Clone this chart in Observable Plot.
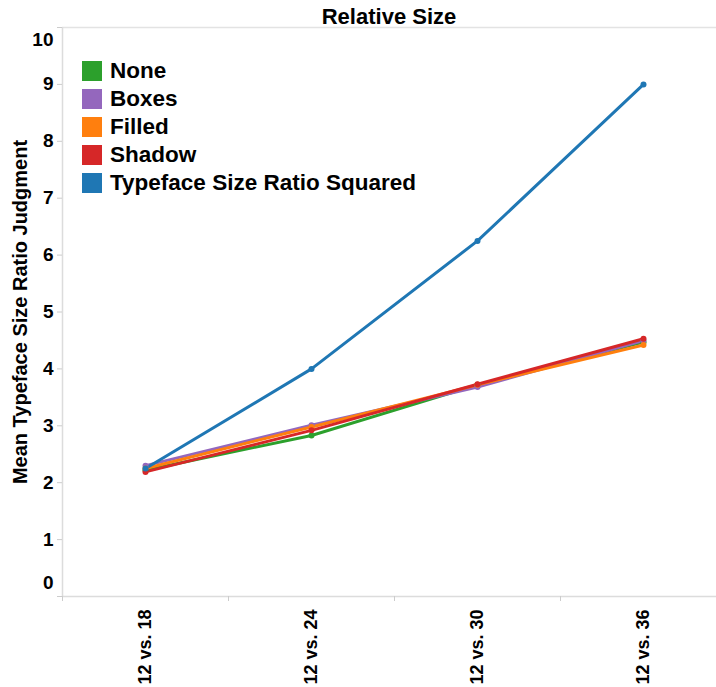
<!DOCTYPE html>
<html><head><meta charset="utf-8">
<script src="https://cdn.jsdelivr.net/npm/d3@7"></script>
<script src="https://cdn.jsdelivr.net/npm/@observablehq/plot@0.6"></script>
<style>
body{margin:0;background:#fff;font-family:"Liberation Sans",Arial,sans-serif;}
#wrap{position:relative;width:716px;height:687px;overflow:hidden;}
#title{position:absolute;left:62px;width:654px;top:4px;text-align:center;font-weight:bold;font-size:22px;line-height:26px;}
#legend{position:absolute;left:82px;top:57px;}
.item{display:flex;align-items:center;height:28px;font-weight:bold;font-size:22.5px;}
.sw{width:20px;height:20px;margin-right:8px;flex:none;}
#chart{position:absolute;top:0;left:0;}
</style></head><body>
<div id="wrap"><div id="chart"></div><div id="title"></div><div id="legend"></div></div>
<script>
const titleText = "Relative Size";
const yTitle = "Mean Typeface Size Ratio Judgment";
const categories = ["12 vs. 18", "12 vs. 24", "12 vs. 30", "12 vs. 36"];
const seriesNames = ["None", "Boxes", "Filled", "Shadow", "Typeface Size Ratio Squared"];
const seriesColors = ["#2ca02c", "#9467bd", "#ff7f0e", "#d62728", "#1f77b4"];
const noneVals = [2.22, 2.83, 3.72, 4.47];
const boxesVals = [2.30, 3.01, 3.68, 4.50];
const filledVals = [2.25, 2.98, 3.72, 4.42];
const shadowVals = [2.19, 2.92, 3.73, 4.53];
const squaredVals = [2.25, 4.00, 6.25, 9.00];
const yTicks = [0, 1, 2, 3, 4, 5, 6, 7, 8, 9, 10];

const allVals = [noneVals, boxesVals, filledVals, shadowVals, squaredVals];
const data = [];
seriesNames.forEach((s, k) => allVals[k].forEach((v, i) => data.push({series: s, i, v})));
const idx = categories.map((_, i) => i);
const bounds = [-0.5, ...idx.map(i => i + 0.5)];
const yMin = yTicks[0], yMax = yTicks[yTicks.length - 1];

document.getElementById("title").textContent = titleText;
const leg = document.getElementById("legend");
seriesNames.forEach((s, k) => {
  const d = document.createElement("div"); d.className = "item";
  d.innerHTML = `<span class="sw" style="background:${seriesColors[k]}"></span><span>${s}</span>`;
  leg.appendChild(d);
});

const chart = Plot.plot({
  width: 716, height: 687,
  marginTop: 27, marginBottom: 91, marginLeft: 62, marginRight: 0,
  style: {fontFamily: "'Liberation Sans', Arial, sans-serif", fontSize: "19px", fontWeight: "bold", color: "#000", background: "#fff"},
  x: {type: "linear", domain: [bounds[0], bounds[bounds.length - 1]], range: [62, 62 + 166 * categories.length]},
  y: {domain: [yMin, yMax]},
  color: {domain: seriesNames, range: seriesColors},
  marks: [
    Plot.ruleY([yMax], {stroke: "#e3e3e3", strokeWidth: 1.5}),
    Plot.ruleY([yMin], {stroke: "#dcdcdc", strokeWidth: 1.5}),
    Plot.ruleX([bounds[0]], {stroke: "#dcdcdc", strokeWidth: 1.5}),
    Plot.axisY({ticks: yTicks, tickSize: 5, tickFormat: () => "", stroke: "#ccc", label: null}),
    Plot.axisY({ticks: yTicks.filter(t => t > yMin && t < yMax), tickSize: 0, tickPadding: 9, label: null, fill: "#000"}),
    Plot.axisY({ticks: [yMin], tickSize: 0, tickPadding: 9, dy: -14, label: null, fill: "#000"}),
    Plot.axisY({ticks: [yMax], tickSize: 0, tickPadding: 9, dy: 12, label: null, fill: "#000"}),
    Plot.axisX({ticks: bounds, tickSize: 5, tickFormat: () => "", stroke: "#ccc", label: null}),
    Plot.axisX({ticks: idx, tickSize: 0, tickPadding: 13, tickRotate: -90, fontSize: 18, tickFormat: i => categories[i], label: null, fill: "#000"}),
    Plot.text([yTitle], {frameAnchor: "left", textAnchor: "middle", rotate: -90, dx: -42, fontSize: 20, fontWeight: "bold", fill: "#000"}),
    Plot.line(data, {x: "i", y: "v", z: "series", stroke: "series", strokeWidth: 3}),
    Plot.dot(data, {x: "i", y: "v", fill: "series", r: 3})
  ]
});
document.getElementById("chart").appendChild(chart);
</script>
</body></html>
